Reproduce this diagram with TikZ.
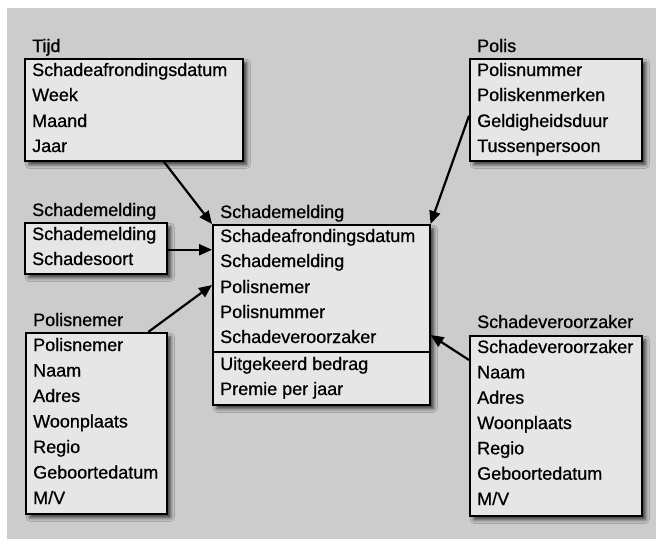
\documentclass[tikz,border=0pt]{standalone}
\usepackage{fontspec}
\setmainfont[FakeBold=0.7]{Liberation Sans}
\usetikzlibrary{arrows.meta,shadows.blur,calc}
\definecolor{bggray}{HTML}{CCCCCC}
\definecolor{boxfill}{HTML}{E6E6E6}
\begin{document}
\begin{tikzpicture}[x=1pt,y=-1pt,
  box/.style={draw=black,line width=1.5pt,fill=boxfill,anchor=north west,inner sep=0pt,
    blur shadow={shadow xshift=4pt,shadow yshift=-4pt,shadow blur radius=3.5pt,shadow opacity=70}},
  txt/.style={anchor=base west,inner sep=0pt,font=\fontsize{18}{22}\selectfont},
  conn/.style={line width=2.2pt,-{Triangle[length=13pt,width=11pt]}}]
\useasboundingbox (0,0) rectangle (656,539);
\fill[bggray] (7,8) rectangle (656,539);

% Tijd
\node[txt] (tijdT) at (32,52) {Tijd};
\node[box,minimum width=218pt,minimum height=102pt] (tijd) at (24,58) {};
\node[txt] (tijd1) at (32,76) {Schadeafrondingsdatum};
\node[txt] (tijd2) at (32,101) {Week};
\node[txt] (tijd3) at (32,127) {Maand};
\node[txt] (tijd4) at (32,152) {Jaar};

% Polis
\node[txt] (polisT) at (477,52) {Polis};
\node[box,minimum width=172pt,minimum height=102pt] (polis) at (469,58) {};
\node[txt] (polis1) at (477,76) {Polisnummer};
\node[txt] (polis2) at (477,101) {Poliskenmerken};
\node[txt] (polis3) at (477,127) {Geldigheidsduur};
\node[txt] (polis4) at (477,152) {Tussenpersoon};

% small Schademelding
\node[txt] (smT) at (32,216) {Schademelding};
\node[box,minimum width=142pt,minimum height=51pt] (sm) at (24,222) {};
\node[txt] (sm1) at (32,240) {Schademelding};
\node[txt] (sm2) at (32,265) {Schadesoort};

% centre Schademelding
\node[txt] (cenT) at (220,218) {Schademelding};
\node[box,minimum width=217pt,minimum height=180pt] (cen) at (212,224) {};
\draw[line width=1.5pt] ([yshift=-128pt]cen.north west) -- ([yshift=-128pt]cen.north east);
\node[txt] (cen1) at (220,242) {Schadeafrondingsdatum};
\node[txt] (cen2) at (220,267) {Schademelding};
\node[txt] (cen3) at (220,293) {Polisnemer};
\node[txt] (cen4) at (220,318) {Polisnummer};
\node[txt] (cen5) at (220,343) {Schadeveroorzaker};
\node[txt] (cen6) at (220,370) {Uitgekeerd bedrag};
\node[txt] (cen7) at (220,395) {Premie per jaar};

% Polisnemer
\node[txt] (pnT) at (33,326) {Polisnemer};
\node[box,minimum width=141pt,minimum height=181pt] (pn) at (25,332) {};
\node[txt] (pn1) at (33,351) {Polisnemer};
\node[txt] (pn2) at (33,376.5) {Naam};
\node[txt] (pn3) at (33,402) {Adres};
\node[txt] (pn4) at (33,427.5) {Woonplaats};
\node[txt] (pn5) at (33,453) {Regio};
\node[txt] (pn6) at (33,478.5) {Geboortedatum};
\node[txt] (pn7) at (33,504) {M/V};

% Schadeveroorzaker
\node[txt] (svT) at (477,328) {Schadeveroorzaker};
\node[box,minimum width=172pt,minimum height=180pt] (sv) at (469,335) {};
\node[txt] (sv1) at (477,353) {Schadeveroorzaker};
\node[txt] (sv2) at (477,378.3) {Naam};
\node[txt] (sv3) at (477,403.7) {Adres};
\node[txt] (sv4) at (477,429) {Woonplaats};
\node[txt] (sv5) at (477,454.3) {Regio};
\node[txt] (sv6) at (477,479.7) {Geboortedatum};
\node[txt] (sv7) at (477,505) {M/V};

% connectors
\draw[conn] ([xshift=30pt]tijd.south) -- (cen.north west);
\draw[conn] ([yshift=-1.5pt]sm.east) -- ([yshift=-1.5pt]sm.east -| cen.west);
\draw[conn] ([xshift=52pt]pn.north) -- ([yshift=-61pt]cen.north west);
\draw[conn] ([yshift=-6pt]polis.west) -- (cen.north east);
\draw[conn] ([yshift=-25pt]sv.north west) -- ([yshift=-111pt]cen.north east);
\end{tikzpicture}
\end{document}
